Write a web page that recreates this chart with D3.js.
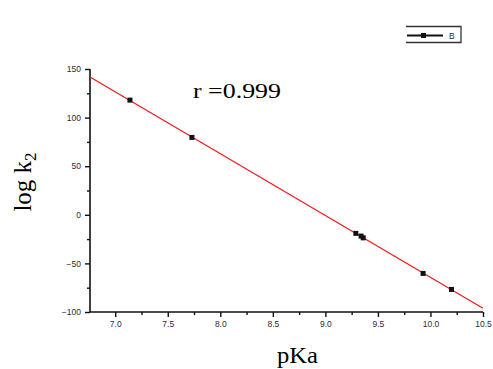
<!DOCTYPE html>
<html>
<head>
<meta charset="utf-8">
<script src="https://cdn.jsdelivr.net/npm/d3@7"></script>
<style>
  html, body { margin: 0; padding: 0; background: #fff; }
  svg { display: block; }
</style>
</head>
<body>
<svg id="chart" width="493" height="369"></svg>
<script>
// Measured points: pKa vs log k2
const pKa = [7.14, 7.73, 9.29, 9.34, 9.36, 9.93, 10.20];
const logK2 = [118, 79.6, -19.1, -21.9, -23.7, -60.3, -76.8];
const xTicks = [7.0, 7.5, 8.0, 8.5, 9.0, 9.5, 10.0, 10.5];
const yTicks = [-100, -50, 0, 50, 100, 150];
const seriesName = "B";
const rLabel = "r =0.999";

const svg = d3.select("#chart");
const plotL = 90, plotR = 483, plotT = 69, plotB = 312;

const x = d3.scaleLinear().domain([6.76, 10.5]).range([plotL, plotR]);
const y = d3.scaleLinear().domain([-100, 150]).range([plotB, plotT]);

// least-squares fit of the points
const mx = d3.mean(pKa), my = d3.mean(logK2);
let sxy = 0, sxx = 0;
pKa.forEach((v, i) => { sxy += (v - mx) * (logK2[i] - my); sxx += (v - mx) * (v - mx); });
const slope = sxy / sxx, intercept = my - slope * mx;
const fit = v => intercept + slope * v;

const tickFont = "Arial, 'Liberation Sans', sans-serif";
const serif = "'Liberation Serif', 'Times New Roman', serif";
const labelColor = "#2b2b3a";

// x axis
const xAxis = svg.append("g").attr("transform", `translate(0,${plotB})`);
xAxis.call(d3.axisBottom(x).tickValues(xTicks).tickSize(5).tickPadding(4).tickFormat(d3.format(".1f")));
xAxis.append("g").call(d3.axisBottom(x).tickValues(d3.range(7.25, 10.5, 0.5)).tickSize(3).tickFormat(""))
  .select(".domain").remove();
xAxis.select(".domain").attr("d", `M${plotL},0H${plotR}`);

// y axis
const yAxis = svg.append("g").attr("transform", `translate(${plotL},0)`);
yAxis.call(d3.axisLeft(y).tickValues(yTicks).tickSize(5).tickPadding(4));
yAxis.append("g").call(d3.axisLeft(y).tickValues(d3.range(-75, 150, 50)).tickSize(3).tickFormat(""))
  .select(".domain").remove();
yAxis.select(".domain").attr("d", `M0,${plotT}V${plotB}`);

svg.selectAll(".domain").attr("stroke", "#111").attr("stroke-width", 1.6);
svg.selectAll(".tick line").attr("stroke", "#111").attr("stroke-width", 1.4);
svg.selectAll(".tick text").attr("font-family", tickFont).attr("font-size", 8.5)
  .attr("fill", labelColor).attr("font-weight", 500);

// fitted line
svg.append("line")
  .attr("x1", x(6.76)).attr("y1", y(fit(6.76)))
  .attr("x2", x(10.5)).attr("y2", y(fit(10.5)))
  .attr("stroke", "#f01818").attr("stroke-width", 1.2);

// data markers
svg.selectAll("rect.pt").data(pKa).enter().append("rect")
  .attr("class", "pt")
  .attr("x", (d) => x(d) - 2.5)
  .attr("y", (d, i) => y(logK2[i]) - 2.5)
  .attr("width", 5).attr("height", 5)
  .attr("fill", "#111");

// correlation annotation
svg.append("text").attr("x", 193).attr("y", 98)
  .attr("font-family", serif).attr("font-size", 21)
  .attr("textLength", 88).attr("lengthAdjust", "spacingAndGlyphs")
  .attr("fill", "#000").text(rLabel);

// axis titles
svg.append("text").attr("x", 277).attr("y", 363)
  .attr("font-family", serif).attr("font-size", 23)
  .attr("textLength", 41).attr("lengthAdjust", "spacingAndGlyphs")
  .attr("fill", "#000").text("pKa");

const yt = svg.append("text")
  .attr("transform", "translate(31,182) rotate(-90)")
  .attr("text-anchor", "middle")
  .attr("font-family", serif)
  .attr("font-size", 25).attr("fill", "#000");
yt.append("tspan").text("log k");
yt.append("tspan").attr("font-size", 17).attr("dy", 5).text("2");

// legend
const lg = svg.append("g");
lg.append("path").attr("d", "M406,26.5H461V42.5H406")
  .attr("fill", "none").attr("stroke", "#333").attr("stroke-width", 1.3);
lg.append("line").attr("x1", 407).attr("x2", 443).attr("y1", 35.5).attr("y2", 35.5)
  .attr("stroke", "#111").attr("stroke-width", 1.8);
lg.append("rect").attr("x", 421).attr("y", 33).attr("width", 5).attr("height", 5).attr("fill", "#111");
lg.append("text").attr("x", 449).attr("y", 39)
  .attr("font-family", tickFont).attr("font-size", 8.5).attr("fill", labelColor).text(seriesName);
</script>
</body>
</html>
